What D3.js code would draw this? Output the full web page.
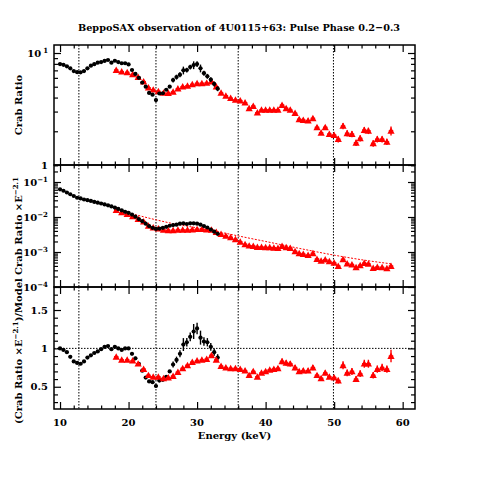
<!DOCTYPE html>
<html><head><meta charset="utf-8">
<script src="https://cdn.jsdelivr.net/npm/d3@7"></script>
<style>body{margin:0;background:#fff}svg{display:block}</style>
</head><body>
<svg id="c" width="485" height="485"></svg>
<script>
// ---------------- data ----------------
const blackE = [10.0,10.5,11.0,11.5,12.0,12.5,13.0,13.5,14.0,14.5,15.0,15.5,16.0,16.5,17.0,17.5,18.0,18.5,19.0,19.5,20.0,20.5,21.0,21.5,22.0,22.5,23.0,23.5,24.0,24.5,25.0,25.5,26.0,26.5,27.0,27.5,28.0,28.5,29.0,29.5,30.0,30.5,31.0,31.5,32.0,32.5,33.0];
const blackTop = [7.97,7.85,7.6,7.3,6.9,6.75,6.72,6.9,7.3,7.7,7.95,8.2,8.3,8.5,8.66,8.2,8.53,8.3,8.1,8.1,7.9,7.05,6.5,6.0,5.45,5.0,4.4,4.25,3.8,4.35,4.37,4.7,5.0,5.74,6.1,6.4,7.0,7.05,7.5,7.8,7.97,7.3,6.6,6.2,5.8,5.3,4.8];
const blackMid = [0.0617,0.0562,0.0501,0.0447,0.0398,0.0355,0.0339,0.0316,0.0302,0.0288,0.0269,0.0257,0.0243,0.0229,0.0216,0.0200,0.0186,0.0170,0.0155,0.0141,0.0132,0.0117,0.0102,0.00871,0.00759,0.00646,0.00550,0.00490,0.00457,0.00468,0.00490,0.00525,0.00562,0.00589,0.00603,0.00646,0.00661,0.00631,0.00661,0.00661,0.00646,0.00603,0.00550,0.00501,0.00437,0.00380,0.00331];
const blackRatio = [1.00,0.98,0.95,0.89,0.83,0.81,0.80,0.83,0.88,0.91,0.94,0.96,0.99,1.02,1.03,0.99,1.02,1.00,0.98,1.00,1.00,0.93,0.87,0.80,0.71,0.62,0.57,0.56,0.51,0.58,0.59,0.63,0.70,0.79,0.85,0.93,1.05,1.08,1.15,1.22,1.26,1.14,1.09,1.08,1.02,0.95,0.88];
const blackErr = [0.012,0.012,0.012,0.012,0.012,0.012,0.012,0.012,0.012,0.012,0.012,0.012,0.012,0.012,0.012,0.012,0.012,0.012,0.012,0.012,0.012,0.025,0.025,0.025,0.025,0.025,0.025,0.025,0.04,0.025,0.025,0.025,0.025,0.05,0.05,0.05,0.08,0.05,0.05,0.08,0.06,0.08,0.05,0.05,0.05,0.05,0.05];

const redE = [18.2,19.0,19.8,20.6,21.4,22.2,22.9,23.6,24.35,25.1,25.8,26.5,27.2,27.9,28.6,29.3,30.0,30.7,31.4,32.1,32.8,33.5,34.2,34.9,35.6,36.3,37.0,37.6,38.2,38.8,39.4,40.0,40.6,41.2,41.8,42.4,43.0,43.6,44.3,44.9,45.5,46.2,46.9,47.5,48.1,48.7,49.3,50.0,50.6,51.3,51.9,52.6,53.2,53.8,54.4,55.0,55.7,56.3,57.0,57.7,58.3];
const redTop = [7.05,6.81,6.72,6.45,6.1,5.55,4.9,4.7,4.55,4.4,4.38,4.5,4.8,5.0,5.1,5.25,5.36,5.36,5.4,5.54,5.0,4.4,4.15,3.95,3.82,3.76,3.6,3.21,3.36,2.93,3.1,3.1,3.1,3.1,3.1,3.43,3.21,3.10,2.90,2.56,2.52,2.49,2.61,2.17,1.94,2.17,1.89,1.85,1.70,2.23,1.92,1.89,1.58,1.73,2.05,2.02,1.56,1.70,1.70,1.61,2.02];
const redMid = [0.01585,0.01349,0.01202,0.01047,0.00871,0.00741,0.00562,0.00501,0.00468,0.00427,0.00417,0.00417,0.00427,0.00427,0.00427,0.00437,0.00447,0.00447,0.00437,0.00427,0.00372,0.00324,0.00288,0.00263,0.00229,0.00195,0.00166,0.00151,0.00148,0.00138,0.00138,0.00135,0.00135,0.00132,0.00129,0.00148,0.00135,0.00129,0.00105,0.000912,0.000871,0.000813,0.000912,0.000631,0.000562,0.000603,0.000537,0.00049,0.000398,0.000617,0.000468,0.000437,0.000363,0.000417,0.000479,0.000457,0.000347,0.000372,0.000363,0.000339,0.000398];
const redRatio = [0.89,0.85,0.85,0.84,0.80,0.73,0.65,0.63,0.63,0.61,0.62,0.64,0.69,0.74,0.78,0.82,0.84,0.85,0.86,0.91,0.85,0.77,0.75,0.74,0.74,0.73,0.71,0.65,0.70,0.63,0.68,0.70,0.72,0.73,0.74,0.83,0.81,0.80,0.75,0.70,0.71,0.71,0.75,0.65,0.61,0.68,0.63,0.62,0.58,0.78,0.68,0.70,0.60,0.67,0.80,0.80,0.65,0.73,0.75,0.73,0.90];
const redErr = [0.02,0.02,0.02,0.02,0.02,0.02,0.02,0.02,0.02,0.02,0.02,0.02,0.02,0.02,0.02,0.02,0.025,0.025,0.025,0.025,0.025,0.025,0.025,0.025,0.025,0.025,0.035,0.035,0.035,0.035,0.035,0.035,0.035,0.035,0.035,0.045,0.045,0.045,0.045,0.045,0.045,0.045,0.045,0.045,0.045,0.045,0.045,0.045,0.065,0.065,0.065,0.065,0.065,0.065,0.065,0.065,0.065,0.065,0.065,0.065,0.09];

const modelE = [18,21,24,27,30,33,36,40,45,50,55,58.4];
const modelMid = [0.0178,0.0117,0.00832,0.00617,0.0049,0.0038,0.00288,0.0020,0.00126,0.000813,0.000562,0.000457];

const lineEnergies = [12.75,24.0,36.0,49.9];
const xTickLabels = [10,20,30,40,50,60];
const topTickLabels = [1,10];
const midTickLabels = [1e-1,1e-2,1e-3,1e-4];
const botTickLabels = [0.5,1,1.5];

const blackHalfBin = 0.25, redHalfBin = 0.33;

// ---------------- layout ----------------
const svg = d3.select("#c");
svg.append("rect").attr("width",485).attr("height",485).attr("fill","#fff");
const L = 54, R = 415;
const FONT = "'DejaVu Serif', serif";
const x = d3.scaleLinear().domain([9.12, 61.8]).range([L, R]);

const panels = [
  {top:45, bot:165, y:d3.scaleLog().domain([1, 11.79]).range([165,45])},
  {top:165, bot:287, y:d3.scaleLog().domain([1e-4, 0.306]).range([287,165])},
  {top:287, bot:409, y:d3.scaleLinear().domain([0.21, 1.80]).range([409,287])}
];

function minorLog(y){
  const [a,b] = y.domain(); const out=[];
  for(let e=Math.floor(Math.log10(a)); e<=Math.ceil(Math.log10(b)); e++){
    for(let m=2;m<=9;m++){ const v=m*Math.pow(10,e); if(v>a && v<b) out.push(v); }
  }
  return out;
}

const xMajor = xTickLabels;
const xMinor = d3.range(10,62,2).filter(v=>v%10!==0);

panels.forEach((p,i)=>{
  const g = svg.append("g");
  const y = p.y;
  const major = i===0 ? topTickLabels : i===1 ? midTickLabels : botTickLabels;
  const minor = i===2 ? d3.range(0.3,1.8,0.1).map(v=>+v.toFixed(1)).filter(v=>v!==0.5&&v!==1&&v!==1.5) : minorLog(y);
  const mk = (axisFn, scale, vals, size, tx, ty) => {
    const a = g.append("g").attr("transform",`translate(${tx},${ty})`)
      .call(axisFn(scale).tickValues(vals).tickSize(size).tickFormat(""));
    a.select(".domain").remove();
    a.selectAll("line").attr("stroke","#000").attr("stroke-width",1.2);
  };
  mk(d3.axisBottom, x, xMajor, -7, 0, p.bot);
  mk(d3.axisBottom, x, xMinor, -3.5, 0, p.bot);
  mk(d3.axisTop, x, xMajor, -7, 0, p.top);
  mk(d3.axisTop, x, xMinor, -3.5, 0, p.top);
  mk(d3.axisLeft, y, major, -7, L, 0);
  mk(d3.axisLeft, y, minor, -4, L, 0);
  mk(d3.axisRight, y, major, -7, R, 0);
  mk(d3.axisRight, y, minor, -4, R, 0);

  major.forEach(v=>{
    const t = g.append("text").attr("x",48).attr("y",y(v)).attr("dy","0.35em")
      .attr("text-anchor","end").attr("font-family",FONT).attr("font-weight","bold")
      .attr("font-size",10).attr("fill","#000");
    if(i===0){
      if(v===1) t.text("1");
      else { t.append("tspan").text("10"); t.append("tspan").attr("dx",2).attr("dy",-4).attr("font-size",7).text("1"); }
    } else if(i===1){
      const e = Math.round(Math.log10(v));
      t.append("tspan").text("10");
      t.append("tspan").attr("dy",-4).attr("font-size",7).text("\u2212"+(-e));
    } else {
      t.text(String(v));
    }
  });

  g.selectAll(null).data(lineEnergies).enter().append("line")
    .attr("x1",d=>x(d)).attr("x2",d=>x(d)).attr("y1",p.top).attr("y2",p.bot)
    .attr("stroke","#000").attr("stroke-width",1).attr("stroke-dasharray","1.5,1.5");
  if(i===2){
    g.append("line").attr("x1",L).attr("x2",R).attr("y1",y(1)).attr("y2",y(1))
      .attr("stroke","#000").attr("stroke-width",1).attr("stroke-dasharray","1.5,1.5");
  }

  g.append("rect").attr("x",L).attr("y",p.top).attr("width",R-L).attr("height",p.bot-p.top)
    .attr("fill","none").attr("stroke","#000").attr("stroke-width",1.5);
});

const clipId = "clip";
svg.append("clipPath").attr("id",clipId).append("rect").attr("x",L).attr("y",45).attr("width",R-L).attr("height",364);

function drawSeries(panel, E, V, F, hb, color, marker){
  const y = panel.y;
  const g = svg.append("g").attr("clip-path",`url(#${clipId})`);
  E.forEach((e,k)=>{
    const v = V[k], f = F[k];
    const cx = x(e), cy = y(v);
    g.append("line").attr("x1",x(e-hb)).attr("x2",x(e+hb)).attr("y1",cy).attr("y2",cy)
      .attr("stroke",color).attr("stroke-width",1.4);
    g.append("line").attr("x1",cx).attr("x2",cx).attr("y1",y(v*(1-f))).attr("y2",y(v*(1+f)))
      .attr("stroke",color).attr("stroke-width",1.4);
    if(marker==="tri"){
      const s=3.6;
      g.append("path").attr("d",`M${cx},${cy-s}L${cx+s},${cy+s*0.8}L${cx-s},${cy+s*0.8}Z`).attr("fill",color);
    } else {
      g.append("circle").attr("cx",cx).attr("cy",cy).attr("r",2.1).attr("fill",color);
    }
  });
}

const RED = "#ff0000";
drawSeries(panels[0], redE, redTop, redErr, redHalfBin, RED, "tri");
drawSeries(panels[0], blackE, blackTop, blackErr, blackHalfBin, "#000", "dot");
svg.append("path").datum(modelE.map((e,k)=>[e,modelMid[k]]))
  .attr("d", d3.line().x(d=>x(d[0])).y(d=>panels[1].y(d[1])).curve(d3.curveMonotoneX))
  .attr("fill","none").attr("stroke",RED).attr("stroke-width",1).attr("stroke-dasharray","2,1.5");
drawSeries(panels[1], redE, redMid, redErr, redHalfBin, RED, "tri");
drawSeries(panels[1], blackE, blackMid, blackErr, blackHalfBin, "#000", "dot");
drawSeries(panels[2], blackE, blackRatio, blackErr, blackHalfBin, "#000", "dot");
drawSeries(panels[2], redE, redRatio, redErr, redHalfBin, RED, "tri");

svg.selectAll(null).data(xTickLabels).enter().append("text")
  .attr("x",d=>x(d)).attr("y",426).attr("text-anchor","middle")
  .attr("font-family",FONT).attr("font-weight","bold").attr("font-size",10).text(d=>d);

svg.append("text").attr("x",239).attr("y",31).attr("text-anchor","middle")
  .attr("font-family",FONT).attr("font-weight","bold").attr("font-size",10)
  .attr("textLength",322).attr("lengthAdjust","spacingAndGlyphs")
  .text("BeppoSAX observation of 4U0115+63: Pulse Phase 0.2\u22120.3");
svg.append("text").attr("x",234.5).attr("y",439).attr("text-anchor","middle")
  .attr("font-family",FONT).attr("font-weight","bold").attr("font-size",10)
  .text("Energy (keV)");

function yTitle(cy, parts){
  const t = svg.append("text").attr("transform",`translate(22,${cy}) rotate(-90)`)
    .attr("text-anchor","middle").attr("font-family",FONT).attr("font-weight","bold").attr("font-size",10);
  parts.forEach(pp=>{
    const s = t.append("tspan").text(pp.t);
    if(pp.sup){ s.attr("font-size",7).attr("dy",-4); }
    if(pp.down){ s.attr("dy",4); }
  });
}
yTitle(105, [{t:"Crab Ratio"}]);
yTitle(226, [{t:"Crab Ratio \u00d7E"},{t:"\u22122.1",sup:true}]);
yTitle(351, [{t:"(Crab Ratio \u00d7E"},{t:"\u22122.1",sup:true},{t:")/Model",down:true}]);
</script>
</body></html>
